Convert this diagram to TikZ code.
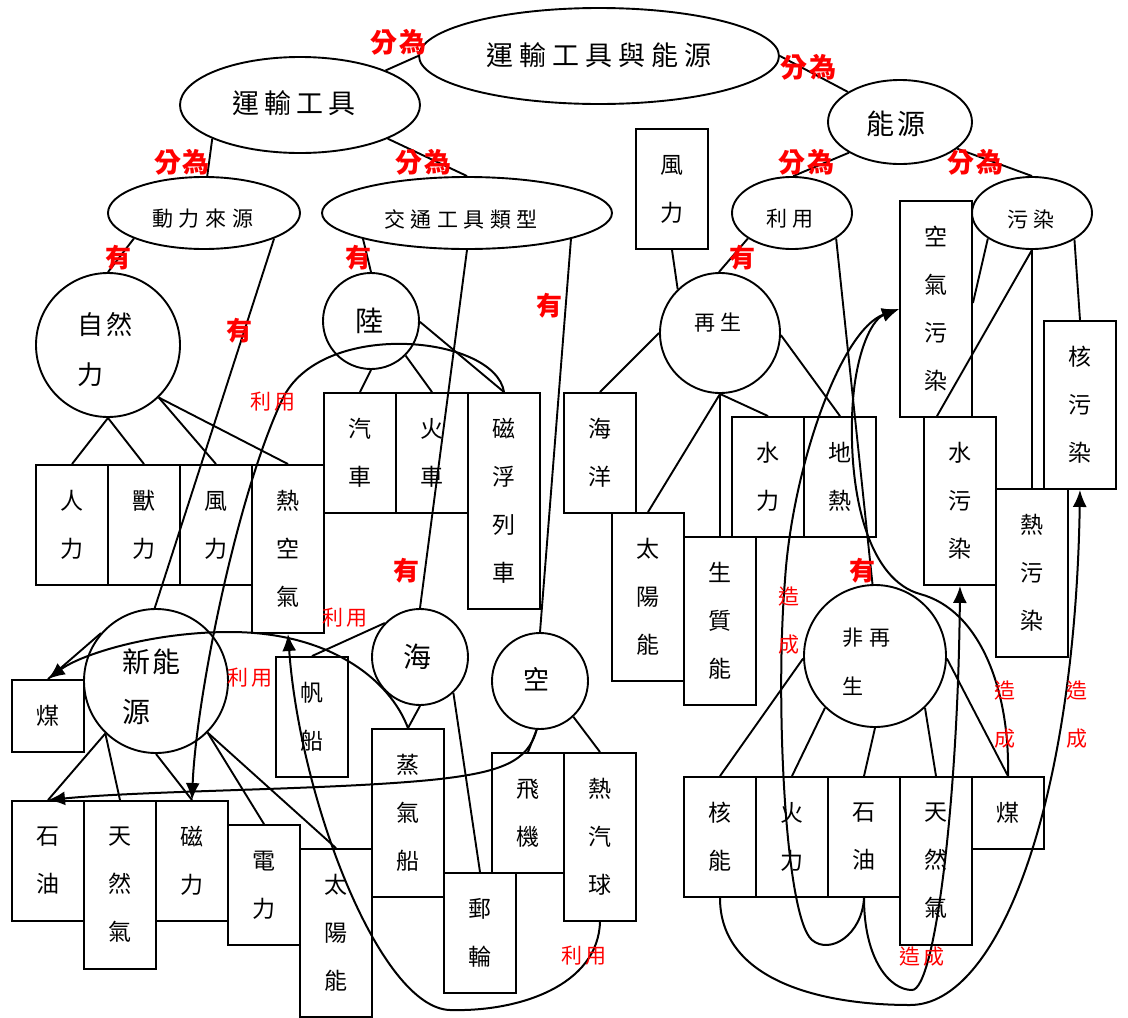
\documentclass[tikz,border=0pt]{standalone}
\usepackage{fontspec}
\setmainfont{Noto Sans CJK TC}
\usetikzlibrary{shapes.geometric,arrows.meta}
\newcommand\zg[1]{\hspace{#1pt}}
\begin{document}
\begin{tikzpicture}[x=1pt,y=-1pt,
  ln/.style={line width=1.9pt},
  bx/.style={draw,line width=1.9pt,minimum width=72pt,inner sep=0pt,align=center,font=\fontsize{23}{48}\selectfont},
  ov/.style={draw,ellipse,line width=1.9pt,inner sep=0pt},
  cir/.style={draw,circle,line width=1.9pt,inner sep=0pt},
  tx/.style={inner sep=0pt,align=left},
  rb/.style={text=red,font=\bfseries\fontsize{27}{27}\selectfont,inner sep=0pt},
  rr/.style={text=red,font=\fontsize{21}{24}\selectfont,inner sep=0pt},
  rv/.style={text=red,align=center,font=\fontsize{21}{48}\selectfont,inner sep=0pt},
  arr/.style={line width=2pt,-{Latex[length=17pt,width=14pt]}}
]
\useasboundingbox (0,0) rectangle (1128,1018);
\fill[white] (0,0) rectangle (1128,1018);

% ellipses
\node[ov,minimum width=360pt,minimum height=96pt] (E0) at (599,56) {};
\node[ov,minimum width=240pt,minimum height=96pt] (E1) at (300,105) {};
\node[ov,minimum width=144pt,minimum height=84pt] (E2) at (900,122) {};
\node[ov,minimum width=192pt,minimum height=72pt] (E3) at (204,213) {};
\node[ov,minimum width=290pt,minimum height=72pt] (E4) at (467,213) {};
\node[ov,minimum width=120pt,minimum height=72pt] (E5) at (792,213) {};
\node[ov,minimum width=120pt,minimum height=72pt] (E6) at (1032,213) {};
% circles
\node[cir,minimum size=144pt] (C1) at (108,345) {};
\node[cir,minimum size=96pt] (C2) at (371,321) {};
\node[cir,minimum size=120pt] (C3) at (720,333) {};
\node[cir,minimum size=144pt] (C4) at (156,681) {};
\node[cir,minimum size=96pt] (C5) at (420,657) {};
\node[cir,minimum size=96pt] (C6) at (540,681) {};
\node[cir,minimum size=142pt] (C7) at (875,656) {};

% texts in ellipses / circles
\node[tx,font=\fontsize{27}{27}\selectfont] (t0) at (599,55) {運\zg{6}輸\zg{6}工\zg{6}具\zg{6}與\zg{6}能\zg{6}源};
\node[tx,font=\fontsize{27}{27}\selectfont] (t1) at (294,103) {運\zg{5}輸\zg{5}工\zg{5}具};
\node[tx,font=\fontsize{28}{28}\selectfont] (t2) at (896,124) {能\zg{4}源};
\node[tx,font=\fontsize{21}{21}\selectfont] (t3) at (203,219) {動\zg{6}力\zg{6}來\zg{6}源};
\node[tx,font=\fontsize{21}{21}\selectfont] (t4) at (461,219) {交\zg{5.5}通\zg{5.5}工\zg{5.5}具\zg{5.5}類\zg{5.5}型};
\node[tx,font=\fontsize{21}{21}\selectfont] (t5) at (790,219) {利\zg{5}用};
\node[tx,font=\fontsize{21}{21}\selectfont] (t6) at (1031,219) {污\zg{5}染};
\node[tx,anchor=west,font=\fontsize{26}{50}\selectfont] (t7) at (77,350) {自\zg{3}然\\力};
\node[tx,font=\fontsize{28}{28}\selectfont] (t8) at (369,321) {陸};
\node[tx,font=\fontsize{21}{21}\selectfont] (t9) at (718,323) {再\zg{6}生};
\node[tx,anchor=west,font=\fontsize{28}{50}\selectfont] (t10) at (122,687) {新\zg{2}能\\源};
\node[tx,font=\fontsize{28}{28}\selectfont] (t11) at (417,657) {海};
\node[tx,font=\fontsize{26}{26}\selectfont] (t12) at (536,679) {空};
\node[tx,anchor=west,font=\fontsize{21}{49}\selectfont] (t13) at (842,662) {非\zg{6}再\\生};

% boxes
\node[bx,minimum height=120pt] (bFT) at (672,189) {風\\力};
\node[bx,minimum height=216pt] (bKQ) at (936,309) {空\\氣\\污\\染};
\node[bx,minimum height=168pt] (bHW) at (1080,405) {核\\污\\染};
\node[bx,minimum height=120pt] (bRL) at (72,525) {人\\力};
\node[bx,minimum height=120pt] (bSL) at (144,525) {獸\\力};
\node[bx,minimum height=120pt] (bFL) at (216,525) {風\\力};
\node[bx,minimum height=168pt] (bRK) at (288,549) {熱\\空\\氣};
\node[bx,minimum height=120pt] (bQC) at (360,453) {汽\\車};
\node[bx,minimum height=120pt] (bHC) at (432,453) {火\\車};
\node[bx,minimum height=216pt] (bCF) at (504,501) {磁\\浮\\列\\車};
\node[bx,minimum height=120pt] (bHY) at (600,453) {海\\洋};
\node[bx,minimum height=120pt] (bSLi) at (768,477) {水\\力};
\node[bx,minimum height=120pt] (bDR) at (840,477) {地\\熱};
\node[bx,minimum height=168pt] (bTR) at (648,597) {太\\陽\\能};
\node[bx,minimum height=168pt] (bSZ) at (720,621) {生\\質\\能};
\node[bx,minimum height=168pt] (bSW) at (960,501) {水\\污\\染};
\node[bx,minimum height=168pt] (bRW) at (1032,573) {熱\\污\\染};
\node[bx,minimum height=72pt] (bML) at (48,716) {煤};
\node[bx,minimum height=120pt] (bFC) at (312,717) {帆\\船};
\node[bx,minimum height=168pt] (bZQ) at (408,813) {蒸\\氣\\船};
\node[bx,minimum height=120pt] (bYL) at (48,861) {石\\油};
\node[bx,minimum height=168pt] (bTL) at (120,885) {天\\然\\氣};
\node[bx,minimum height=120pt] (bCL) at (192,861) {磁\\力};
\node[bx,minimum height=120pt] (bDL) at (264,885) {電\\力};
\node[bx,minimum height=168pt] (bTYL) at (336,933) {太\\陽\\能};
\node[bx,minimum height=120pt] (bYC) at (480,933) {郵\\輪};
\node[bx,minimum height=120pt] (bFJ) at (528,813) {飛\\機};
\node[bx,minimum height=168pt] (bRQ) at (600,837) {熱\\汽\\球};
\node[bx,minimum height=120pt] (bHN) at (720,837) {核\\能};
\node[bx,minimum height=120pt] (bHL) at (792,837) {火\\力};
\node[bx,minimum height=120pt] (bYR) at (864,837) {石\\油};
\node[bx,minimum height=168pt] (bTRr) at (936,861) {天\\然\\氣};
\node[bx,minimum height=72pt] (bMR) at (1008,813) {煤};

% tree connectors
\draw[ln] (E0.180) -- (E1.22);
\draw[ln] (E0.0) -- (E2.150);
\draw[ln] (E1.201) -- (E3.85);
\draw[ln] (E1.-21) -- (E4.90);
\draw[ln] (E2.211) -- (E5.88);
\draw[ln] (E2.-25) -- (E6.90);
\draw[ln] (E3.200) -- (C1.90);
\draw[ln] (E3.-20) -- (C4.91);
\draw[ln] (E4.194) -- (C2.90);
\draw[ln] (E4.270) -- (C5.90);
\draw[ln] (E4.-14) -- (C6.90);
\draw[ln] (E5.210) -- (C3.91);
\draw[ln] (E5.-30) -- (C7.92);
\draw[ln] (E6.210) -- ([yshift=6pt]bKQ.east);
\draw[ln] (E6.270) -- ([xshift=-23pt]bSW.north);
\draw[ln] (E6.270) -- (bRW.north);
\draw[ln] (E6.-32) -- (bHW.north);
\draw[ln] (C1.270) -- (bRL.north);
\draw[ln] (C1.270) -- (bSL.north);
\draw[ln] (C1.-46) -- (bFL.north);
\draw[ln] (C1.-46) -- (bRK.north);
\draw[ln] (C2.270) -- (bQC.north);
\draw[ln] (C2.-45) -- (bHC.north);
\draw[ln] (C2.-1) -- (bCF.north);
\draw[ln] (C3.180) -- (bHY.north);
\draw[ln] (C3.270) -- (bTR.north);
\draw[ln] (C3.270) -- (bSZ.north);
\draw[ln] (C3.270) -- (bSLi.north);
\draw[ln] (C3.-2) -- (bDR.north);
\draw[ln] (bFT.south) -- (C3.134);
\draw[ln] (C5.136) -- (bFC.north);
\draw[ln] (C5.270) -- (bZQ.north);
\draw[ln] (C5.-47) -- (bYC.north);
\draw[ln] (C6.266) -- (bFJ.north);
\draw[ln] (C6.-47) -- (bRQ.north);
\draw[ln] (C4.139) -- (bML.north);
\draw[ln] (C4.226) -- (bYL.north);
\draw[ln] (C4.226) -- (bTL.north);
\draw[ln] (C4.270) -- (bCL.north);
\draw[ln] (C4.-45) -- (bDL.north);
\draw[ln] (C4.-45) -- (bTYL.north);
\draw[ln] (C7.182) -- (bHN.north);
\draw[ln] (C7.226) -- (bHL.north);
\draw[ln] (C7.270) -- (bYR.north);
\draw[ln] (C7.-46) -- (bTRr.north);
\draw[ln] (C7.-2) -- (bMR.north);

% curved arrows
\draw[arr] (bCF.north) .. controls (495,335) and (320,318) .. (282,400) .. controls (236,498) and (196,700) .. (bCL.north);
\draw[arr] (bZQ.north) .. controls (390,680) and (330,632) .. (230,632) .. controls (150,632) and (80,655) .. (bML.north);
\draw[arr] (bRQ.south) .. controls (598,985) and (520,1012) .. (450,1010) .. controls (380,1008) and (300,800) .. (bRK.south);
\draw[arr] (C6.266) .. controls (528,762) and (500,772) .. (440,779) .. controls (340,790) and (150,790) .. (bYL.north);
\draw[arr] (bHN.south) .. controls (720,980) and (820,1005) .. (910,1005) .. controls (1000,1005) and (1075,800) .. (bHW.south);
\draw[arr] (bYR.south) .. controls (864,960) and (890,990) .. (912,990) .. controls (935,990) and (958,800) .. (bSW.south);
\draw[arr] (bYR.south) .. controls (862,935) and (830,955) .. (812,940) .. controls (785,917) and (775,700) .. (785,580) .. controls (792,470) and (840,330) .. (bKQ.west);
\draw[arr] (bMR.north) .. controls (1010,690) and (980,610) .. (920,594) .. controls (870,580) and (850,500) .. (852,420) .. controls (853,360) and (870,320) .. (bKQ.west);

% red labels
\node[rb] (f1) at (398,42) {分\zg{2}為};
\node[rb] (f2) at (808,67) {分\zg{2}為};
\node[rb] (f3) at (182,162) {分\zg{2}為};
\node[rb] (f4) at (423,162) {分\zg{2}為};
\node[rb] (f5) at (806,162) {分\zg{2}為};
\node[rb] (f6) at (975,162) {分\zg{2}為};
\node[rb,font=\bfseries\fontsize{26}{26}\selectfont] (y1) at (118,258) {有};
\node[rb,font=\bfseries\fontsize{26}{26}\selectfont] (y2) at (239,331) {有};
\node[rb,font=\bfseries\fontsize{26}{26}\selectfont] (y3) at (358,258) {有};
\node[rb,font=\bfseries\fontsize{26}{26}\selectfont] (y4) at (406,571) {有};
\node[rb,font=\bfseries\fontsize{26}{26}\selectfont] (y5) at (549,306) {有};
\node[rb,font=\bfseries\fontsize{26}{26}\selectfont] (y6) at (742,258) {有};
\node[rb,font=\bfseries\fontsize{26}{26}\selectfont] (y7) at (862,571) {有};
\node[rr] (u1) at (273,402) {利\zg{3}用};
\node[rr] (u2) at (345,618) {利\zg{3}用};
\node[rr] (u3) at (250,678) {利\zg{3}用};
\node[rr] (u4) at (584,956) {利\zg{3}用};
\node[rv] (z1) at (789,621) {造\\成};
\node[rv] (z2) at (1005,715) {造\\成};
\node[rv] (z3) at (1077,715) {造\\成};
\node[rr] (z4) at (922,957) {造\zg{4}成};
\end{tikzpicture}
\end{document}
